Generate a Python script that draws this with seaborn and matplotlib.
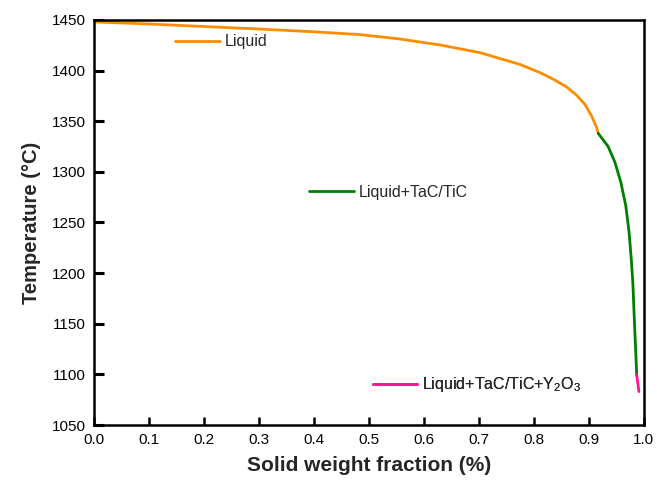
import numpy as np
import pandas as pd
import matplotlib
matplotlib.use("Agg")
import matplotlib.pyplot as plt
from matplotlib.lines import Line2D
import seaborn as sns

# values
liquid_x = [0.0, 0.1, 0.2, 0.3, 0.4, 0.484, 0.556, 0.629, 0.702, 0.775, 0.811, 0.835, 0.859,
            0.877, 0.893, 0.905, 0.914, 0.917]
liquid_t = [1448, 1446, 1443.5, 1441, 1438.3, 1435.5, 1431.2, 1425.3, 1417.7, 1406, 1398, 1391.5,
            1384, 1376, 1366.5, 1355, 1344, 1338]
carbide_x = [0.917, 0.935, 0.947, 0.958, 0.967, 0.973, 0.977, 0.980, 0.983, 0.985, 0.987]
carbide_t = [1338, 1325, 1310, 1290, 1267, 1241, 1214.6, 1190, 1150, 1125, 1099.4]
oxide_x = [0.987, 0.991]
oxide_t = [1099.4, 1083]
phases = ["Liquid", "Liquid+TaC/TiC", "Liquid+TaC/TiC+Y$_2$O$_3$"]
colors = ["#FF8C00", "#008000", "#FF1493"]

df = pd.concat([
    pd.DataFrame({"x": liquid_x, "t": liquid_t, "phase": phases[0]}),
    pd.DataFrame({"x": carbide_x, "t": carbide_t, "phase": phases[1]}),
    pd.DataFrame({"x": oxide_x, "t": oxide_t, "phase": phases[2]}),
])

sns.set_style("ticks")
plt.rcParams["font.family"] = ["Liberation Sans", "DejaVu Sans"]
plt.rcParams["mathtext.fontset"] = "custom"
plt.rcParams["mathtext.rm"] = "Liberation Sans"
plt.rcParams["mathtext.it"] = "Liberation Sans"

fig = plt.figure(figsize=(6.57, 4.86), dpi=100)
ax = fig.add_axes([0.143, 0.1255, 0.837, 0.8335])

sns.lineplot(data=df, x="x", y="t", hue="phase", palette=dict(zip(phases, colors)),
             sort=False, estimator=None, linewidth=2, legend=False, ax=ax)

ax.set_xlim(0, 1.0)
ax.set_ylim(1050, 1450)
ax.set_xticks(np.arange(0, 1.01, 0.1))
ax.set_yticks(np.arange(1050, 1451, 50))
ax.set_xticklabels([f"{v:.1f}" for v in np.arange(0, 1.01, 0.1)])
ax.tick_params(axis="x", direction="in", length=6, width=1.8, labelsize=11, colors="black",
               pad=6, bottom=True, top=False)
ax.tick_params(axis="y", direction="in", length=7, width=2.2, labelsize=11, colors="black",
               pad=6, left=True, right=False)
for s in ax.spines.values():
    s.set_linewidth(1.8)
    s.set_color("black")

ax.set_xlabel("Solid weight fraction (%)", fontsize=15, fontweight="bold", labelpad=6)
ax.set_ylabel("Temperature (\u00b0C)", fontsize=14.5, fontweight="bold", labelpad=8)

# labels drawn as separate one-entry legends, as in the reference
spots = [(0.147, 0.946), (0.391, 0.575), (0.507, 0.099)]
for name, col, pos in zip(phases, colors, spots):
    leg = ax.legend(handles=[Line2D([], [], color=col, linewidth=2)], labels=[name],
                    loc="center left", bbox_to_anchor=pos, frameon=False,
                    fontsize=11.5, handlelength=2.8, handletextpad=0.3,
                    borderaxespad=0, borderpad=0)
    ax.add_artist(leg)

fig.savefig("out.png", dpi=100)
